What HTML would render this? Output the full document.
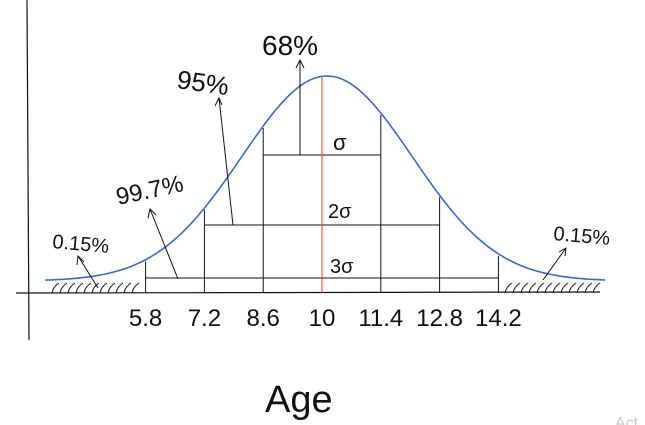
<!DOCTYPE html>
<html><head><meta charset="utf-8"><style>
html,body{margin:0;padding:0;background:#fff;width:645px;height:425px;overflow:hidden}
svg text{font-family:"Liberation Sans",sans-serif;fill:#111}
</style></head><body>
<svg id="c" width="645" height="425">
<line x1="27" y1="0" x2="29" y2="340" stroke="#111" stroke-width="1.2"/>
<line x1="16" y1="293" x2="600" y2="292" stroke="#111" stroke-width="1.2"/>
<g id="hatch"></g>
<g id="marks"></g>
<path id="curve" fill="none" stroke="#3a6bc8" stroke-width="1.6"/>
<g stroke="#111" stroke-width="1" fill="none">
<path d="M300 155 L300 60 M296 68 L300 60 L304 68"/>
<path d="M233 225 L219 98 M215 106 L219 98 L222 105"/>
<path d="M178 279 L150 209 M148 218 L150 209 L156 215"/>
<path d="M98 288 L78 256 M77 265 L78 256 L84 262"/>
<path d="M543 280 L566 248 M559 252 L566 248 L565 256"/>
</g>
<text x="262" y="55" font-size="28">68%</text>
<text x="176" y="88" font-size="26" transform="rotate(8 176 88)">95%</text>
<text x="118" y="205" font-size="24" transform="rotate(-12 118 205)">99.7%</text>
<text x="52" y="248" font-size="20" transform="rotate(5 52 248)">0.15%</text>
<text x="553" y="240" font-size="20" transform="rotate(5 553 240)">0.15%</text>
<text x="333" y="150" font-size="22">σ</text>
<text x="328" y="218" font-size="20">2σ</text>
<text x="330" y="273" font-size="20">3σ</text>
<text x="265" y="412" font-size="38">Age</text>
<text x="615" y="428" font-size="16" style="fill:#ccc">Act</text>
</svg>
<script>
const tickValues=[5.8,7.2,8.6,10,11.4,12.8,14.2];
const tickLabels=["5.8","7.2","8.6","10","11.4","12.8","14.2"];
const sigmaLevels=[1,2,3];
const levelY=[155,225,278];
const mean=10, sd=1.4;
const NS="http://www.w3.org/2000/svg";
function xs(v){return 322+(v-10)*42;}
const baseY=281, peakH=205, sPx=sd*42*1.45;
function curveY(x){const m=xs(mean)+5;return baseY-peakH*Math.exp(-((x-m)**2)/(2*sPx*sPx));}
let d="";for(let x=45;x<=605;x+=4){d+=(x===45?"M":"L")+x+" "+curveY(x).toFixed(1)+" ";}
document.getElementById('curve').setAttribute('d',d);
const g=document.getElementById('marks');
function mk(tag,at){const e=document.createElementNS(NS,tag);for(const k in at)e.setAttribute(k,at[k]);g.appendChild(e);return e;}
tickValues.forEach((v,i)=>{
  const x=xs(v);
  if(v!==mean){
    const l=mk('line',{x1:x,x2:x,y1:curveY(x)+2,y2:293,stroke:'#111','stroke-width':1});
    
    
  }
  const t=mk('text',{x:x,y:326,'font-size':24,'text-anchor':'middle'});
  t.textContent=tickLabels[i];
  
  
});
sigmaLevels.forEach((k,i)=>{
  const l=mk('line',{x1:xs(mean-k*sd),x2:xs(mean+k*sd),y1:levelY[i],y2:levelY[i],stroke:'#111','stroke-width':1});
  
  
});
const r=mk('line',{x1:xs(mean),x2:xs(mean),y1:curveY(xs(mean))+1,y2:293,stroke:'#e33','stroke-width':1});


const h=document.getElementById('hatch');
function hatch(a,b){for(let x=a;x<=b;x+=8){const e=document.createElementNS(NS,'path');e.setAttribute('d',`M${x} 293 Q${x+1} 287 ${x+7} 283`);e.setAttribute('stroke','#111');e.setAttribute('fill','none');e.setAttribute('stroke-width','1');h.appendChild(e);}}
hatch(52,132);hatch(505,595);
</script>
</body></html>
